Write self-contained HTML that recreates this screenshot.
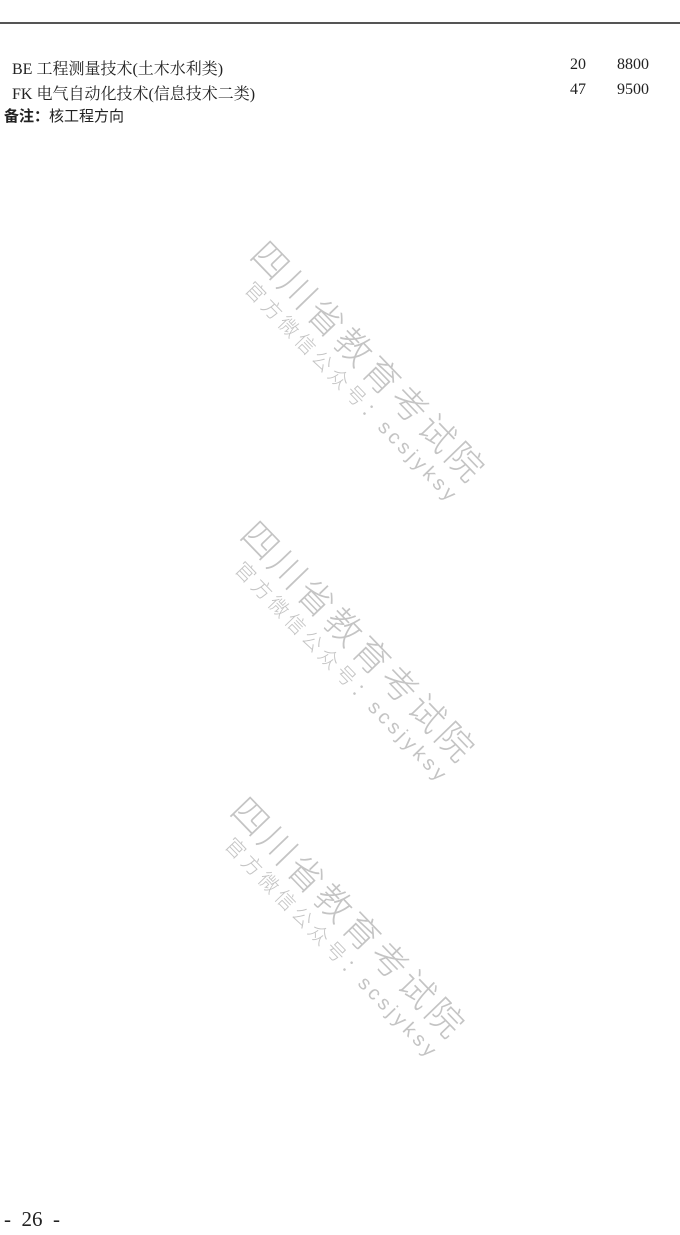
<!DOCTYPE html>
<html><head><meta charset="utf-8"><style>
body{margin:0;width:680px;height:1235px;background:#fff;position:relative;overflow:hidden;font-family:"Liberation Serif","Noto Serif CJK SC",serif;color:#222}
.a{position:absolute;white-space:nowrap}
.hr{position:absolute;left:0;top:22px;width:680px;height:2px;background:#555}
.wm{position:absolute;white-space:nowrap;transform-origin:0 0;transform:rotate(46deg);color:#c4c4c4;font-family:"Liberation Sans","Noto Sans CJK SC",sans-serif;font-weight:300}
.big{font-size:36px;letter-spacing:4px}
.sm{font-size:20px;letter-spacing:4px}
</style></head><body>
<div class="hr"></div>
<div class="a" style="left:12px;top:56px;font-size:16px">BE 工程测量技术(土木水利类)</div>
<div class="a" style="left:570px;top:56px;font-size:16px">20</div>
<div class="a" style="left:617px;top:56px;font-size:16px">8800</div>
<div class="a" style="left:12px;top:81px;font-size:16px">FK 电气自动化技术(信息技术二类)</div>
<div class="a" style="left:570px;top:81px;font-size:16px">47</div>
<div class="a" style="left:617px;top:81px;font-size:16px">9500</div>
<div class="a" style="left:4px;top:105px;font-size:15px;font-family:'Liberation Sans','Noto Sans CJK SC',sans-serif"><b>备注：</b>核工程方向</div>

<div class="wm big" style="left:278px;top:228px">四川省教育考试院</div>
<div class="wm sm" style="left:260px;top:274px">官方微信公众号：scsjyksy</div>
<div class="wm big" style="left:268px;top:508px">四川省教育考试院</div>
<div class="wm sm" style="left:250px;top:554px">官方微信公众号：scsjyksy</div>
<div class="wm big" style="left:258px;top:784px">四川省教育考试院</div>
<div class="wm sm" style="left:240px;top:830px">官方微信公众号：scsjyksy</div>

<div class="a" style="left:4px;top:1207px;font-size:21px">-&nbsp;&nbsp;26&nbsp;&nbsp;-</div>
</body></html>
